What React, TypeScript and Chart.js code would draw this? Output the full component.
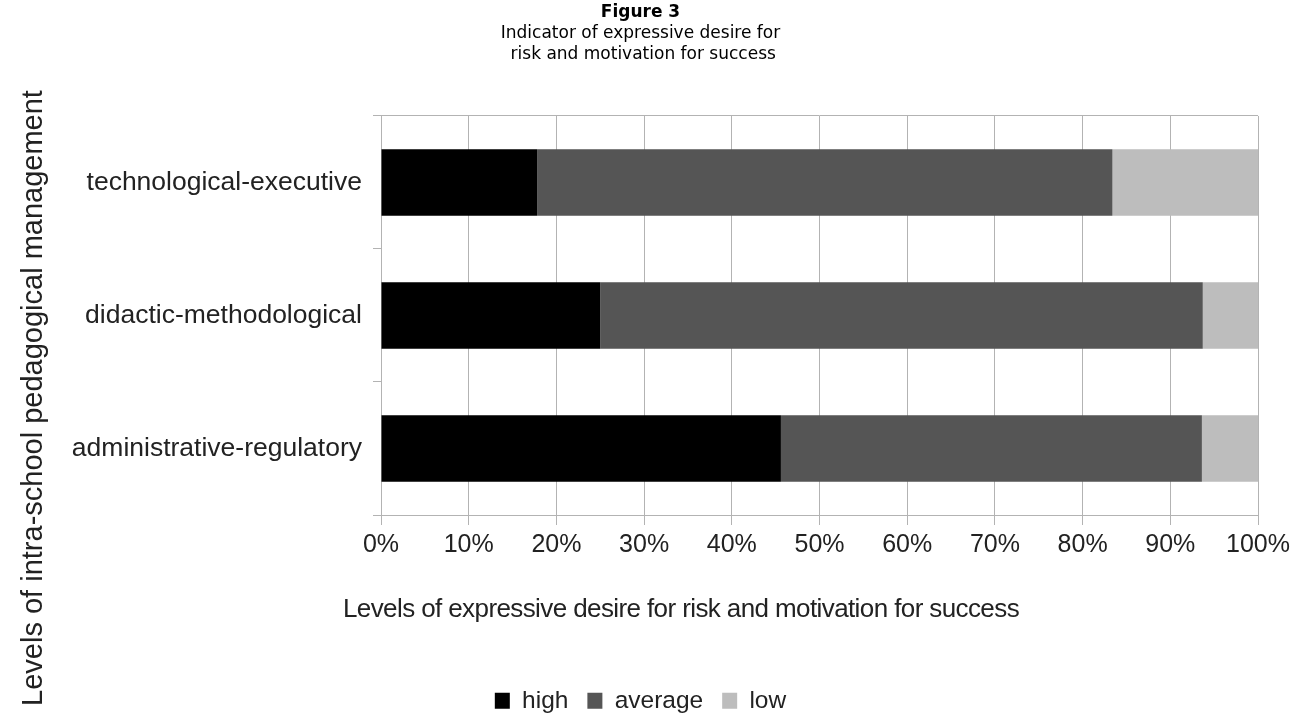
import React, { useEffect, useRef } from "react";
import { Chart, registerables } from "chart.js";

Chart.register(...registerables);

// Levels of intra-school pedagogical management (top to bottom)
const categories = [
  "technological-executive",
  "didactic-methodological",
  "administrative-regulatory",
];

// Share of respondents per level, in percent
const highValues = [17.8, 25.0, 45.6];
const averageValues = [65.6, 68.7, 48.0];
const lowValues = [16.6, 6.3, 6.4];

const xTicks = [0, 10, 20, 30, 40, 50, 60, 70, 80, 90, 100];

const titleText = "Figure 3";
const subtitleLines = ["Indicator of expressive desire for", " risk and motivation for success"];
const xTitle = "Levels of expressive desire for risk and motivation for success";
const yTitle = "Levels of intra-school pedagogical management";

const GRID = "#b3b3b3";
const TEXT = "#222";
const LABEL_FONT = "'Liberation Sans', Arial, sans-serif";
const TITLE_FONT = "'DejaVu Sans', Verdana, sans-serif";

// Axis titles are placed relative to the whole figure rather than the plot area
const axisTitlesPlugin = {
  id: "axisTitles",
  afterDraw(chart: Chart) {
    const ctx = chart.ctx;
    ctx.save();
    ctx.fillStyle = TEXT;
    ctx.textAlign = "center";
    ctx.textBaseline = "alphabetic";

    ctx.font = `26px ${LABEL_FONT}`;
    (ctx as any).letterSpacing = "-0.6px";
    ctx.fillText(xTitle, 681, 617);
    (ctx as any).letterSpacing = "0px";

    ctx.font = `29px ${LABEL_FONT}`;
    ctx.translate(42, 398);
    ctx.rotate(-Math.PI / 2);
    ctx.fillText(yTitle, 0, 0);
    ctx.restore();
  },
};

export default function App() {
  const canvasRef = useRef<HTMLCanvasElement | null>(null);

  useEffect(() => {
    if (!canvasRef.current) return;
    const chart = new Chart(canvasRef.current, {
      type: "bar",
      data: {
        labels: categories,
        datasets: [
          { label: "high", data: highValues, backgroundColor: "#000000" },
          { label: "average", data: averageValues, backgroundColor: "#555555" },
          { label: "low", data: lowValues, backgroundColor: "#bdbdbd" },
        ],
      },
      plugins: [axisTitlesPlugin],
      options: {
        indexAxis: "y",
        animation: false,
        responsive: false,
        maintainAspectRatio: false,
        datasets: {
          bar: { categoryPercentage: 1, barPercentage: 0.5, borderWidth: 0 },
        },
        layout: { padding: { left: 22, right: 36, top: 0, bottom: -8 } },
        plugins: {
          tooltip: { enabled: false },
          title: {
            display: true,
            text: titleText,
            color: "#000",
            font: { family: TITLE_FONT, size: 17, weight: "bold", lineHeight: 1.2 },
            padding: { top: 2, bottom: 0 },
          },
          subtitle: {
            display: true,
            text: subtitleLines,
            color: "#000",
            font: { family: TITLE_FONT, size: 17, weight: "normal", lineHeight: 1.235 },
            padding: { top: 1, bottom: 50.6 },
          },
          legend: {
            position: "bottom",
            labels: {
              color: TEXT,
              font: { family: LABEL_FONT, size: 24.5 },
              boxWidth: 15,
              boxHeight: 16,
              padding: 19,
              generateLabels: (c) =>
                c.data.datasets.map((ds, i) => ({
                  text: ds.label as string,
                  fillStyle: ds.backgroundColor as string,
                  strokeStyle: ds.backgroundColor as string,
                  lineWidth: 0,
                  hidden: false,
                  datasetIndex: i,
                  fontColor: TEXT,
                })),
            },
          },
        },
        scales: {
          x: {
            stacked: true,
            min: 0,
            max: 100,
            afterBuildTicks: (scale) => {
              scale.ticks = xTicks.map((v) => ({ value: v }));
            },
            afterFit: (scale) => {
              scale.height = 154.5;
            },
            ticks: {
              color: TEXT,
              font: { family: LABEL_FONT, size: 25 },
              padding: 5,
              maxRotation: 0,
              callback: (v) => `${v}%`,
            },
            grid: { color: GRID, tickColor: GRID, tickLength: 10, lineWidth: 1 },
            border: { color: GRID, width: 1 },
          },
          y: {
            stacked: true,
            afterFit: (scale) => {
              scale.width = 359;
            },
            ticks: {
              color: TEXT,
              font: { family: LABEL_FONT, size: 26.5 },
              padding: 11,
            },
            grid: {
              offset: true,
              tickLength: 8,
              tickColor: GRID,
              color: (ctx: any) =>
                ctx.type === "scale" || ctx.index === 0 ? GRID : "rgba(0,0,0,0)",
            },
            border: { display: false },
          },
        },
      },
    });
    return () => chart.destroy();
  }, []);

  return (
    <div style={{ position: "fixed", left: 0, top: 0, width: 1295, height: 715, background: "#fff" }}>
      <canvas ref={canvasRef} width={1295} height={715} />
    </div>
  );
}
